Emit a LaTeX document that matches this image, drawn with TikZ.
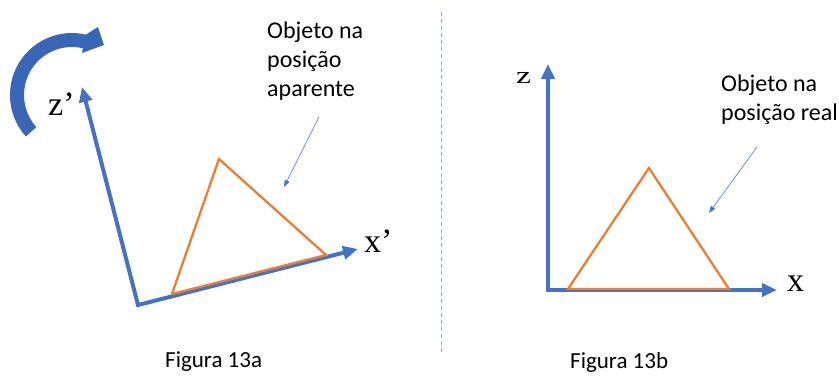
\documentclass[tikz,border=0pt]{standalone}
\usepackage{fontspec}
\setmainfont{Carlito}
\newfontfamily\axisfont{Liberation Serif}
\usetikzlibrary{arrows.meta}

\definecolor{axisblue}{RGB}{68,114,196}
\definecolor{objorange}{RGB}{237,125,49}
\definecolor{turnblue}{RGB}{58,102,182}
\definecolor{sepblue}{RGB}{143,170,220}

\begin{document}
\begin{tikzpicture}[x=1pt, y=-1pt,
    axis/.style={draw=axisblue, line width=4pt, line join=miter,
        {Triangle[length=15pt,width=13pt]}-{Triangle[length=15pt,width=13pt]}},
    object/.style={draw=objorange, line width=2.3pt, line join=miter},
    pointer/.style={draw=axisblue, line width=0.6pt, -{Triangle[length=7pt,width=5pt]}},
    separator/.style={draw=sepblue, line width=0.7pt, dash pattern=on 4pt off 3pt},
    note/.style={anchor=base west, inner sep=0pt, align=left, font=\fontsize{24}{29}\selectfont},
    caption/.style={anchor=base west, inner sep=0pt, font=\fontsize{23}{28}\selectfont},
    axlabel/.style={anchor=base west, inner sep=0pt, font=\axisfont\fontsize{34}{40}\selectfont}
]
\useasboundingbox (0,0) rectangle (839,376);

% Figura 13a
\coordinate (O1) at (138,305);
\coordinate (zp) at (82,87);
\coordinate (xp) at (358,249);
\draw[axis] (zp) -- (O1) -- (xp);
\draw[object] (172,294) -- (219,159) -- (326,255) -- cycle;
\node[axlabel] (zplabel) at (48,115) {z’};
\node[axlabel] (xplabel) at (364,252) {x’};
\fill[turnblue] ([shift={(72,95)}]138:62) arc[start angle=138, end angle=283, radius=62]
    -- (98,27) -- (104,45) -- (82,53)
    -- ([shift={(72,95)}]283:48) arc[start angle=283, end angle=138, radius=48] -- cycle;
\node[note] (apparent) at (267,96) {Objeto na\\posição\\aparente};
\coordinate (pa1) at (319,117);
\coordinate (pa2) at (284,187);
\draw[pointer] (pa1) -- (pa2);
\node[caption] (capA) at (165,367) {Figura 13a};

% separador
\coordinate (sepTop) at (441,12);
\coordinate (sepBot) at (441,352);
\draw[separator] (sepTop) -- (sepBot);

% Figura 13b
\coordinate (O2) at (548,290);
\coordinate (zr) at (548,64);
\coordinate (xr) at (777,290);
\draw[axis] (zr) -- (O2) -- (xr);
\draw[object] (568,289) -- (649,168) -- (729,289) -- cycle;
\node[axlabel, font=\axisfont\fontsize{24}{28}\selectfont] (zlabel) at (516,83) {\scalebox{1.4}[1]{z}};
\node[axlabel] (xlabel) at (787,291) {x};
\node[note] (real) at (721,120) {Objeto na\\posição real};
\coordinate (pr1) at (757,147);
\coordinate (pr2) at (709,213);
\draw[pointer] (pr1) -- (pr2);
\node[caption] (capB) at (570,368) {Figura 13b};
\end{tikzpicture}
\end{document}
